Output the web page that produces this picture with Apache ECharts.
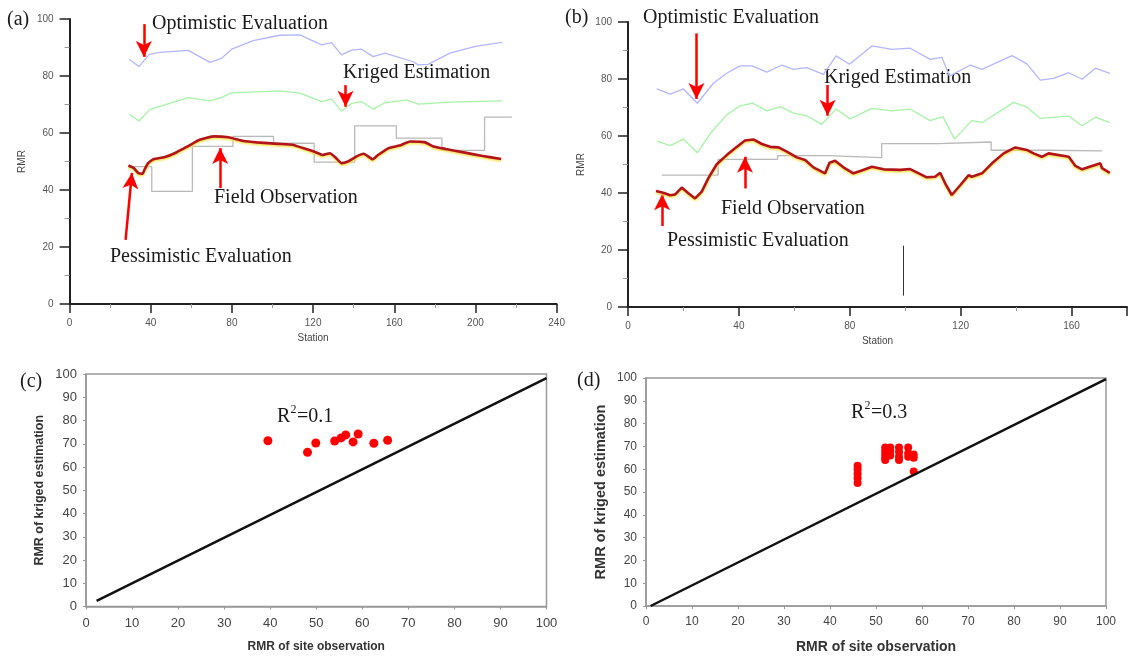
<!DOCTYPE html>
<html>
<head>
<meta charset="utf-8">
<script src="https://cdn.jsdelivr.net/npm/echarts@6/dist/echarts.min.js"></script>
<style>
  html, body { margin: 0; padding: 0; background: #fff; }
  #chart { width: 1128px; height: 660px; }
</style>
</head>
<body>
<div id="chart"></div>
<script>
// panel (a): RMR along the stations
const optAX = [29.3, 34.2, 39.3, 44.5, 58.5, 69.2, 74.9, 79.9, 90.5, 103.6, 113.5, 124.2, 129.1, 134.0, 139.0, 143.9, 149.6, 155.4, 169.3, 171.8, 176.7, 187.4, 200.5, 213.2];
const optAY = [85.9, 83.3, 87.6, 88.3, 89.0, 84.8, 86.2, 89.4, 92.4, 94.3, 94.4, 90.9, 91.7, 87.4, 89.1, 89.4, 86.8, 88.0, 85.0, 83.9, 84.1, 88.0, 90.5, 91.8];
const kriAX = [29.3, 34.2, 39.6, 58.5, 69.2, 74.9, 79.9, 103.6, 113.5, 124.2, 129.1, 134.0, 139.0, 143.9, 149.6, 155.4, 166.1, 171.8, 187.4, 213.2];
const kriAY = [66.6, 64.2, 68.3, 72.4, 71.3, 72.5, 74.1, 74.8, 74.0, 71.0, 71.9, 67.7, 70.4, 71.0, 68.4, 70.6, 71.6, 70.1, 70.8, 71.3];
const pesAX = [29.0, 31.6, 33.9, 36.0, 36.9, 38.7, 41.3, 46.6, 51.8, 58.9, 64.1, 71.2, 78.2, 85.2, 92.3, 102.8, 109.8, 115.1, 120.4, 124.8, 128.3, 130.9, 134.1, 137.1, 141.5, 145.0, 149.4, 152.0, 157.3, 162.6, 167.8, 174.9, 179.3, 185.4, 194.2, 203.0, 212.7];
const pesAY = [48.6, 47.7, 45.9, 45.7, 47.1, 49.4, 50.8, 51.5, 52.9, 55.6, 57.6, 58.8, 58.5, 57.3, 56.7, 56.2, 55.9, 54.7, 53.5, 52.3, 52.9, 51.5, 49.4, 50.0, 51.8, 52.7, 50.8, 52.3, 54.7, 55.6, 57.0, 56.8, 55.3, 54.4, 53.2, 52.0, 50.9];
const obsAX = [29, 40.5, 60.5, 80.5, 100.5, 120.5, 140.5, 161, 183.5, 204.5, 218];
const obsAY = [48.2, 39.5, 55.3, 58.8, 56.4, 49.8, 62.5, 58.2, 53.9, 65.6, 65.6];

// panel (b)
const optBX = [10.4, 15.2, 20.0, 25.0, 30.8, 35.6, 40.4, 44.7, 50.1, 55.5, 59.7, 64.5, 70.5, 75.1, 79.9, 88.0, 95.2, 101.8, 109.0, 113.2, 116.0, 123.5, 127.7, 138.5, 143.9, 148.7, 153.5, 159.0, 163.8, 168.6, 173.8];
const optBY = [76.5, 74.7, 76.5, 71.5, 78.5, 82.0, 84.6, 84.6, 82.4, 84.9, 83.4, 84.0, 81.6, 88.1, 85.2, 91.6, 90.4, 90.8, 86.9, 87.6, 81.0, 84.9, 83.4, 88.2, 85.3, 79.6, 80.2, 82.2, 79.9, 83.8, 82.0];
const kriBX = [10.4, 15.2, 20.0, 25.0, 30.2, 35.6, 40.4, 45.0, 50.1, 54.9, 59.7, 64.5, 69.9, 75.1, 80.1, 88.0, 95.2, 101.8, 109.0, 113.6, 117.8, 124.0, 128.0, 139.1, 143.9, 148.7, 159.0, 163.8, 168.6, 173.8];
const kriBY = [58.2, 56.6, 58.9, 54.1, 61.5, 67.4, 70.6, 71.5, 68.8, 70.3, 68.0, 67.1, 64.1, 69.5, 66.0, 69.7, 68.8, 69.4, 65.4, 66.8, 58.9, 65.4, 64.8, 71.8, 70.1, 66.2, 67.0, 63.6, 66.6, 64.7];
const pesBX = [10.1, 12.7, 15.2, 17.0, 19.4, 21.8, 24.2, 26.6, 29.0, 32.0, 35.6, 38.6, 42.2, 45.2, 48.3, 51.3, 54.3, 57.3, 60.9, 63.9, 66.9, 71.1, 72.7, 74.7, 77.7, 81.3, 83.8, 88.0, 92.2, 98.2, 101.8, 107.8, 110.8, 112.6, 114.4, 116.8, 119.9, 122.9, 124.0, 127.7, 131.3, 135.5, 139.7, 143.9, 146.3, 149.3, 151.7, 159.0, 161.4, 163.8, 170.4, 171.0, 173.8];
const pesBY = [40.7, 40.1, 39.2, 39.5, 41.9, 39.9, 38.1, 40.5, 45.2, 50.1, 53.3, 55.7, 58.4, 58.8, 57.2, 56.2, 56.0, 54.5, 52.5, 51.6, 49.0, 46.9, 50.6, 51.3, 49.0, 46.9, 47.7, 49.2, 48.3, 48.1, 48.4, 45.5, 45.7, 47.1, 43.4, 39.3, 42.8, 46.3, 45.7, 46.9, 50.4, 53.9, 56.0, 55.1, 53.9, 52.7, 53.9, 52.7, 49.5, 48.3, 50.4, 48.7, 47.1];
const obsBX = [12.2, 32.5, 54, 72, 91.5, 112, 131, 151, 171];
const obsBY = [46.3, 51.8, 53.1, 52.4, 57.3, 57.9, 55.0, 54.8, 54.8];

// panel (c): site observation vs kriged estimation
const siteC = [39.5, 48.1, 49.9, 54.0, 55.4, 56.4, 58.0, 59.1, 62.5, 65.5];
const krigC = [71.3, 66.3, 70.3, 71.2, 72.5, 73.8, 70.8, 74.2, 70.2, 71.5];
const lineCX = [2.3, 100];
const lineCY = [2.4, 98.2];

// panel (d)
const siteD = [46, 46, 46, 46, 46, 52, 52, 52, 52, 52, 53.1, 53.1, 53.1, 55, 55, 55, 55, 57, 57, 57, 58.2, 58.2, 58.2];
const krigD = [61.5, 60, 58, 56, 54, 69.5, 68, 66.5, 65, 64, 69.5, 68, 66, 69.5, 67.5, 65.5, 64, 69.5, 67, 65.5, 66.5, 65, 59];
const lineDX = [1, 100];
const lineDY = [0, 99.5];

const zip = (xs, ys) => xs.map((x, i) => [x, ys[i]]);

const SANS = 'Liberation Sans';
const SERIF = 'Liberation Serif';

// 箭头（数据坐标）
const arrowsA = [
  [[36.6, 98.2], [36.6, 86.7]],
  [[136, 76.8], [136, 69.2]],
  [[74.2, 40.7], [74.2, 54.7]],
  [[27.6, 22.5], [30.7, 46.0]]
];
const arrowsB = [
  [[24.7, 96.0], [24.7, 73.0]],
  [[72.0, 77.9], [72.0, 67.1]],
  [[42.2, 41.6], [42.2, 52.7]],
  [[12.3, 28.4], [12.3, 39.6]]
];

function arrowMark(list) {
  return {
    silent: true,
    symbol: ['none', 'arrow'],
    symbolSize: [12, 16],
    label: { show: false },
    lineStyle: { color: '#ff0000', width: 2.5, type: 'solid' },
    data: list.map(a => [{ coord: a[0] }, { coord: a[1] }])
  };
}

function stationX(idx, max, showMax) {
  return {
    type: 'value', gridIndex: idx, min: 0, max: max, interval: 40,
    name: 'Station', nameLocation: 'middle', nameGap: 29,
    nameTextStyle: { fontFamily: SANS, fontSize: 10, color: '#444' },
    axisLine: { lineStyle: { color: '#222', width: 2 } },
    axisTick: { show: true, length: 9, lineStyle: { color: '#222', width: 1.5 } },
    minorTick: { show: true, splitNumber: 2, length: 4, lineStyle: { color: '#999' } },
    axisLabel: { fontFamily: SANS, fontSize: 10, color: '#555', margin: 14, showMaxLabel: showMax },
    splitLine: { show: false }
  };
}
function rmrY(idx) {
  return {
    type: 'value', gridIndex: idx, min: 0, max: 100, interval: 20,
    name: 'RMR', nameLocation: 'middle', nameGap: 42, nameRotate: 90,
    nameTextStyle: { fontFamily: SANS, fontSize: 10, color: '#444' },
    axisLine: { lineStyle: { color: '#222', width: 2 } },
    axisTick: { show: true, length: 10, lineStyle: { color: '#222', width: 1.5 } },
    minorTick: { show: true, splitNumber: 2, length: 5, lineStyle: { color: '#999' } },
    axisLabel: { fontFamily: SANS, fontSize: 10, color: '#555', margin: 16 },
    splitLine: { show: false }
  };
}
function scatX(idx, fs, tfs) {
  return {
    type: 'value', gridIndex: idx, min: 0, max: 100, interval: 10,
    name: 'RMR of site observation', nameLocation: 'middle', nameGap: 34,
    nameTextStyle: { fontFamily: SANS, fontSize: fs, fontWeight: 'bold', color: '#333' },
    axisLine: { lineStyle: { color: '#999', width: 1.5 } },
    axisTick: { show: true, length: 3, lineStyle: { color: '#999' } },
    axisLabel: { fontFamily: SANS, fontSize: tfs, color: '#444', margin: 10 },
    splitLine: { show: false }
  };
}
function scatY(idx, fs, gap, tfs) {
  return {
    type: 'value', gridIndex: idx, min: 0, max: 100, interval: 10,
    name: 'RMR of kriged estimation', nameLocation: 'middle', nameGap: gap, nameRotate: 90,
    nameTextStyle: { fontFamily: SANS, fontSize: fs, fontWeight: 'bold', color: '#333' },
    axisLine: { lineStyle: { color: '#999', width: 1.5 } },
    axisTick: { show: true, length: 3, lineStyle: { color: '#999' } },
    axisLabel: { fontFamily: SANS, fontSize: tfs, color: '#444', margin: 9 },
    splitLine: { show: false }
  };
}

function thinLine(idx, data, color) {
  return {
    type: 'line', xAxisIndex: idx, yAxisIndex: idx, data: data,
    showSymbol: false, symbol: 'none',
    lineStyle: { color: color, width: 1.3 }
  };
}
function redLine(idx, data, arrows, smooth) {
  return {
    type: 'line', xAxisIndex: idx, yAxisIndex: idx, data: data,
    showSymbol: false, symbol: 'none', smooth: smooth, z: 5,
    lineStyle: { color: '#b3141a', width: 2.6, shadowColor: 'rgba(245,225,70,0.95)', shadowBlur: 2, shadowOffsetY: 1.5 },
    markLine: arrowMark(arrows)
  };
}
function stepLine(idx, data) {
  return {
    type: 'line', xAxisIndex: idx, yAxisIndex: idx, data: data, step: 'end',
    showSymbol: false, symbol: 'none',
    lineStyle: { color: '#b9b9b9', width: 1.3 }
  };
}

function label(text, x, y, size) {
  return { type: 'text', x: x, y: y, silent: true,
    style: { text: text, font: size + 'px "' + SERIF + '"', fill: '#1a1a1a', verticalAlign: 'middle' } };
}
function rsq(value, x, y) {
  return [
    label('R', x, y, 20),
    label('2', x + 13.5, y - 7, 12),
    label('=' + value, x + 20, y, 20)
  ];
}

const stray = {
  silent: true, symbol: 'none', label: { show: false },
  lineStyle: { color: '#333', width: 1, type: 'solid' },
  data: [[{ coord: [99.3, 4] }, { coord: [99.3, 21.5] }]]
};

const chart = echarts.init(document.getElementById('chart'));
chart.setOption({
  animation: false,
  backgroundColor: '#fff',
  grid: [
    { left: 69.6, top: 19, width: 487, height: 285 },
    { left: 628, top: 22, width: 499, height: 285 },
    { left: 86, top: 374, width: 460.5, height: 232.5, show: true, borderColor: '#999', borderWidth: 1.5 },
    { left: 646, top: 378, width: 460, height: 228, show: true, borderColor: '#999', borderWidth: 1.5 }
  ],
  xAxis: [stationX(0, 240, true), stationX(1, 180, false), scatX(2, 12, 13), scatX(3, 14, 12)],
  yAxis: [rmrY(0), rmrY(1), scatY(2, 12.5, 40, 13), scatY(3, 14.5, 38, 12)],
  series: [
    thinLine(0, zip(optAX, optAY), '#b3b6ff'),
    thinLine(0, zip(kriAX, kriAY), '#a6f2a6'),
    stepLine(0, zip(obsAX, obsAY)),
    redLine(0, zip(pesAX, pesAY), arrowsA, 0.15),

    thinLine(1, zip(optBX, optBY), '#b3b6ff'),
    thinLine(1, zip(kriBX, kriBY), '#a6f2a6'),
    Object.assign(stepLine(1, zip(obsBX, obsBY)), { markLine: stray }),
    redLine(1, zip(pesBX, pesBY), arrowsB, false),

    {
      type: 'line', xAxisIndex: 2, yAxisIndex: 2, data: zip(lineCX, lineCY),
      showSymbol: false, symbol: 'none', lineStyle: { color: '#111', width: 2.5 }
    },
    {
      type: 'scatter', xAxisIndex: 2, yAxisIndex: 2, data: zip(siteC, krigC),
      symbolSize: 9, itemStyle: { color: '#ff0000', opacity: 1 }
    },
    {
      type: 'line', xAxisIndex: 3, yAxisIndex: 3, data: zip(lineDX, lineDY),
      showSymbol: false, symbol: 'none', lineStyle: { color: '#111', width: 2.5 }
    },
    {
      type: 'scatter', xAxisIndex: 3, yAxisIndex: 3, data: zip(siteD, krigD),
      symbolSize: 8, itemStyle: { color: '#ff0000', opacity: 1 }
    }
  ],
  graphic: [
    label('(a)', 7, 20, 20),
    label('(b)', 565, 18, 20),
    label('(c)', 20, 382, 20),
    label('(d)', 577, 381, 20),
    label('Optimistic Evaluation', 152, 24, 20),
    label('Kriged Estimation', 343, 73, 20),
    label('Field Observation', 214, 198, 20),
    label('Pessimistic Evaluation', 110, 257, 20),
    label('Optimistic Evaluation', 643, 18, 20),
    label('Kriged Estimation', 824, 78, 20),
    label('Field Observation', 721, 209, 20),
    label('Pessimistic Evaluation', 667, 241, 20)
  ].concat(rsq('0.1', 277, 417), rsq('0.3', 851, 413))
});
</script>
</body>
</html>
